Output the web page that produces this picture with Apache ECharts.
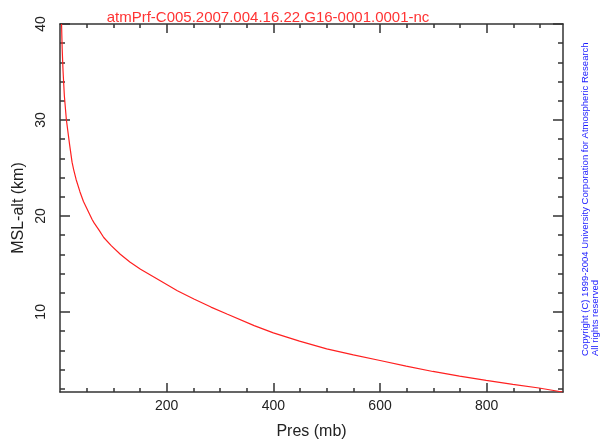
<!DOCTYPE html>
<html>
<head>
<meta charset="utf-8">
<script src="https://cdn.jsdelivr.net/npm/echarts@6/dist/echarts.min.js"></script>
<style>html,body{margin:0;padding:0;background:#fff;}#c{width:601px;height:445px;}</style>
</head>
<body>
<div id="c"></div>
<script>
// Profile: pressure (mb) vs MSL altitude (km)
var pres = [2.9, 4.04, 5.6, 8.2, 12, 17.8, 22.6, 25.7, 30.2, 37.5, 44, 60, 63.6, 73.5, 82, 96, 113, 131, 151, 188, 220, 251, 283, 313, 364, 400, 449, 500, 550, 600, 649, 699, 749, 799, 849, 898, 942];
var alt  = [40, 37.5, 35.2, 32.5, 30, 27.5, 25.6, 24.8, 23.8, 22.5, 21.5, 19.65, 19.3, 18.5, 17.75, 16.9, 16.0, 15.2, 14.45, 13.24, 12.2, 11.34, 10.5, 9.78, 8.57, 7.81, 6.95, 6.15, 5.52, 4.93, 4.35, 3.79, 3.31, 2.86, 2.45, 2.07, 1.65];
var xMajor = [200, 400, 600, 800];
var xMinor = [50, 100, 150, 250, 300, 350, 450, 500, 550, 650, 700, 750, 850, 900];
var yMajor = [10, 20, 30, 40];
var yMinor = [2, 4, 6, 8, 12, 14, 16, 18, 22, 24, 26, 28, 32, 34, 36, 38];
var titleText = 'atmPrf-C005.2007.004.16.22.G16-0001.0001-nc';
var xName = 'Pres (mb)';
var yName = 'MSL-alt (km)';
var copy1 = 'Copyright (C) 1999-2004 University Corporation for Atmospheric Research';
var copy2 = 'All rights reserved';

var X_MIN = 0, X_MAX = 943, Y_MIN = 1.65, Y_MAX = 40;
var FONT = 'Liberation Sans';
var axisColor = '#333';
var lineStyle = {color: axisColor, width: 1.5};

function xAx(pos, ticks, len, labels, main) {
  return {
    type: 'value', position: pos, min: X_MIN, max: X_MAX,
    axisLine: {show: main, lineStyle: lineStyle, onZero: false},
    axisTick: {show: true, inside: true, length: len, customValues: ticks, lineStyle: {color: axisColor, width: 1.5}},
    axisLabel: labels ? {show: true, customValues: labels, fontFamily: FONT, fontSize: 14, color: '#222', margin: 7} : {show: false},
    splitLine: {show: false},
    name: (pos === 'bottom' && main) ? xName : '',
    nameLocation: 'middle', nameGap: 32,
    nameTextStyle: {fontFamily: FONT, fontSize: 16, color: '#222'}
  };
}
function yAx(pos, ticks, len, labels, main) {
  return {
    type: 'value', position: pos, min: Y_MIN, max: Y_MAX,
    axisLine: {show: main, lineStyle: lineStyle, onZero: false},
    axisTick: {show: true, inside: true, length: len, customValues: ticks, lineStyle: {color: axisColor, width: 1.5}},
    axisLabel: labels ? {show: true, customValues: labels, rotate: 90, fontFamily: FONT, fontSize: 14, color: '#222', margin: 12} : {show: false},
    splitLine: {show: false},
    name: (pos === 'left' && main) ? yName : '',
    nameLocation: 'middle', nameGap: 30,
    nameTextStyle: {fontFamily: FONT, fontSize: 16, color: '#222'}
  };
}

var data = pres.map(function (p, i) { return [p, alt[i]]; });

var chart = echarts.init(document.getElementById('c'), null, {renderer: 'canvas'});
chart.setOption({
  backgroundColor: '#fff',
  animation: false,
  title: {
    text: titleText, left: 263, top: 5, textAlign: 'center',
    textStyle: {fontFamily: FONT, fontSize: 15, fontWeight: 'normal', color: '#ff3333'}
  },
  grid: {left: 60, right: 38, top: 24, bottom: 52, containLabel: false},
  xAxis: [
    xAx('bottom', xMajor, 9, xMajor, true),
    xAx('bottom', xMinor, 4, null, false),
    xAx('top', xMajor, 9, null, true),
    xAx('top', xMinor, 4, null, false)
  ],
  yAxis: [
    yAx('left', yMajor, 10, yMajor, true),
    yAx('left', yMinor, 5, null, false),
    yAx('right', yMajor, 10, null, true),
    yAx('right', yMinor, 5, null, false)
  ],
  series: [{
    type: 'line', xAxisIndex: 0, yAxisIndex: 0, data: data,
    showSymbol: false, smooth: false,
    lineStyle: {color: '#ff2020', width: 1.2}
  }],
  graphic: [
    {type: 'text', x: 585, y: 356, rotation: Math.PI / 2,
     style: {text: copy1, fill: '#1a1aff', font: '9.5px ' + FONT, align: 'left', verticalAlign: 'middle'}},
    {type: 'text', x: 595, y: 356, rotation: Math.PI / 2,
     style: {text: copy2, fill: '#1a1aff', font: '9.5px ' + FONT, align: 'left', verticalAlign: 'middle'}}
  ]
});
</script>
</body>
</html>
